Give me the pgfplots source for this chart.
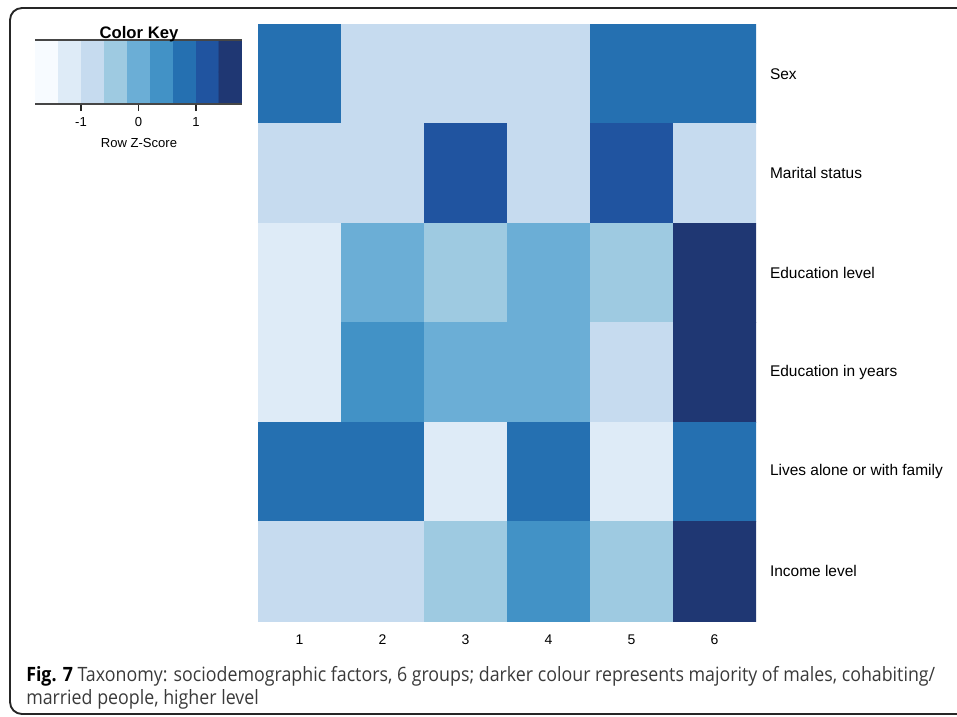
\documentclass[border=0pt]{standalone}
\usepackage{pgfplots}
\pgfplotsset{compat=1.18}
\usepackage{fontspec}
\setmainfont{Liberation Sans}
\newfontfamily\capfont{Open Sans}
\definecolor{capgray}{HTML}{3A3A3A}
\pgfplotsset{
  colormap={zblues}{rgb255=(247,251,255) rgb255=(222,235,247) rgb255=(198,219,239)
    rgb255=(158,202,225) rgb255=(107,174,214) rgb255=(66,146,198)
    rgb255=(37,112,177) rgb255=(32,84,160) rgb255=(31,55,115)},
}
\newsavebox\capA
\newsavebox\capB
\begin{document}
\sbox\capA{\capfont\fontsize{14.8}{17}\selectfont\textbf{\color{black}Fig. 7} {\color{capgray}Taxonomy: sociodemographic factors, 6 groups; darker colour represents majority of males, cohabiting/}}%
\sbox\capB{\capfont\fontsize{14.8}{17}\selectfont\color{capgray}married people, higher level}%
\pgfmathsetmacro\capf{681.75/\wd\capA}%
\begin{tikzpicture}
\useasboundingbox (0pt,0pt) rectangle (717.75pt,-537.75pt);
\draw[black!85, line width=1.4pt, rounded corners=9pt] (7.5pt,-535.5pt) rectangle (745pt,-6pt);

% heatmap
\begin{axis}[
  at={(193.5pt,-18pt)}, anchor=north west,
  scale only axis, width=373.5pt, height=447.75pt,
  xmin=0.5, xmax=6.5, ymin=0.5, ymax=6.5, y dir=reverse,
  axis line style={draw=none}, major tick length=0pt,
  colormap name=zblues, colormap access=direct,
  xtick={1,2,3,4,5,6}, xticklabels={1,2,3,4,5,6},
  ytick={1,2,3,4,5,6},
  yticklabels={Sex,Marital status,Education level,Education in years,Lives alone or with family,Income level},
  yticklabel pos=right,
  xticklabel style={font=\fontsize{10.5}{12}\selectfont, yshift=-6.5pt},
  yticklabel style={font=\fontsize{11.6}{13}\selectfont, anchor=west, xshift=7pt},
  /pgf/number format/assume math mode=true,
]
\addplot[matrix plot*, mesh/cols=6, point meta=explicit] coordinates {
(1,1) [6] (2,1) [2] (3,1) [2] (4,1) [2] (5,1) [6] (6,1) [6]

(1,2) [2] (2,2) [2] (3,2) [7] (4,2) [2] (5,2) [7] (6,2) [2]

(1,3) [1] (2,3) [4] (3,3) [3] (4,3) [4] (5,3) [3] (6,3) [8]

(1,4) [1] (2,4) [5] (3,4) [4] (4,4) [4] (5,4) [2] (6,4) [8]

(1,5) [6] (2,5) [6] (3,5) [1] (4,5) [6] (5,5) [1] (6,5) [6]

(1,6) [2] (2,6) [2] (3,6) [3] (4,6) [5] (5,6) [3] (6,6) [8]
};
\end{axis}

% color key
\begin{axis}[
  at={(26.25pt,-30pt)}, anchor=north west,
  scale only axis, width=155.25pt, height=48pt,
  xmin=-1.8, xmax=1.8, ymin=-0.5, ymax=1.5,
  colormap name=zblues, colormap access=direct,
  axis on top,
  separate axis lines,
  x axis line style={draw=gray!55!black, line width=0.9pt},
  y axis line style={draw=none},
  xtick={-1,0,1}, xticklabels={-1,0,1}, ytick=\empty,
  tick align=outside, xtick pos=bottom, major tick length=5.25pt,
  tick style={gray!30!black, line width=0.8pt},
  xticklabel style={font=\fontsize{9.8}{11}\selectfont, yshift=-1.5pt},
  /pgf/number format/assume math mode=true,
]
\addplot[matrix plot*, mesh/cols=9, point meta=explicit] coordinates {
(-1.6,0) [0] (-1.2,0) [1] (-0.8,0) [2] (-0.4,0) [3] (0,0) [4] (0.4,0) [5] (0.8,0) [6] (1.2,0) [7] (1.6,0) [8]

(-1.6,1) [0] (-1.2,1) [1] (-0.8,1) [2] (-0.4,1) [3] (0,1) [4] (0.4,1) [5] (0.8,1) [6] (1.2,1) [7] (1.6,1) [8]
};
\end{axis}
\node[font=\bfseries\fontsize{12.5}{14}\selectfont, inner sep=0pt] at (104.25pt,-25.5pt) {Color Key};
\node[font=\fontsize{9.8}{12}\selectfont, inner sep=0pt] at (104.25pt,-107.25pt) {Row Z-Score};

% caption
\node[anchor=base west, inner sep=0pt] at (19.5pt,-511pt) {\scalebox{\capf}[1]{\usebox\capA}};
\node[anchor=base west, inner sep=0pt] at (19.5pt,-528.5pt) {\scalebox{\capf}[1]{\usebox\capB}};
\end{tikzpicture}
\end{document}
